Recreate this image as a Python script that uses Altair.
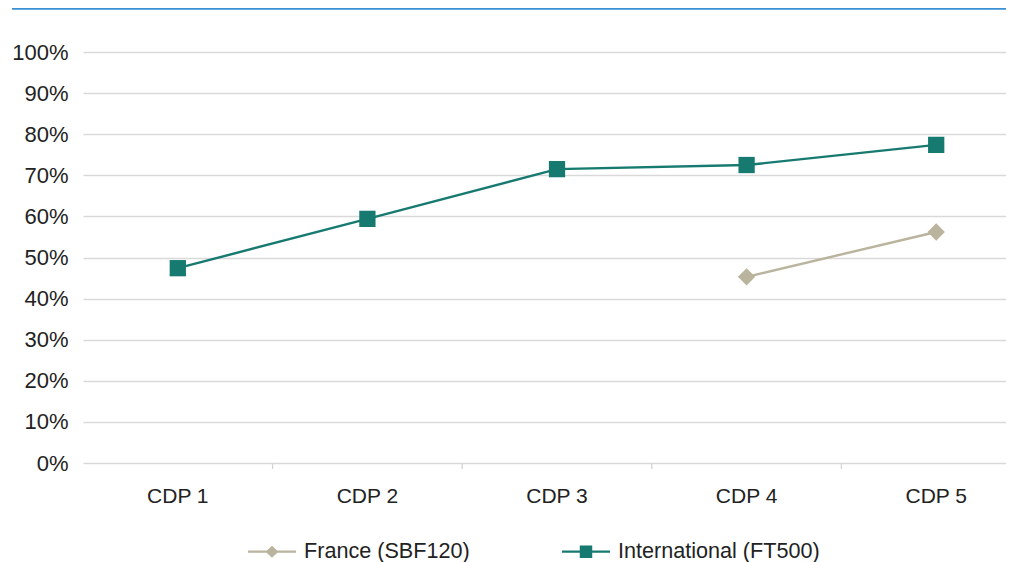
import altair as alt
import pandas as pd

categories = ["CDP 1", "CDP 2", "CDP 3", "CDP 4", "CDP 5"]
series_names = ["France (SBF120)", "International (FT500)"]
france = [None, None, None, 0.453, 0.562]
international = [0.474, 0.594, 0.715, 0.725, 0.774]
y_ticks = [0.0, 0.1, 0.2, 0.3, 0.4, 0.5, 0.6, 0.7, 0.8, 0.9, 1.0]

colors = ["#bab39d", "#177a70"]
marker_shapes = ["diamond", "square"]
marker_sizes = [300, 265]
legend_shapes = [
    "M-1,-0.045H1V0.045H-1ZM0,-0.25L0.27,0L0,0.25L-0.27,0Z",
    "M-1,-0.045H1V0.045H-1ZM-0.26,-0.26H0.26V0.26H-0.26Z",
]

rows = []
for name, vals in zip(series_names, [france, international]):
    for c, v in zip(categories, vals):
        if v is not None:
            rows.append({"cdp": c, "series": name, "value": v})
df = pd.DataFrame(rows)
boundaries = pd.DataFrame({"cdp": categories[1:]})

W = 923
H = 411
BAND = 189.6
FONT = "Liberation Sans"

x_scale = alt.Scale(type="band", domain=categories, range=[0, BAND * 5],
                    paddingInner=0, paddingOuter=0)
x_axis = alt.Axis(title=None, grid=False, domain=False, ticks=False,
                  labelFont=FONT, labelFontSize=21, labelColor="#222",
                  labelPadding=22, labelAngle=0)
x_enc = alt.X("cdp:N", sort=categories, scale=x_scale, axis=x_axis)
y_enc = alt.Y(
    "value:Q",
    scale=alt.Scale(domain=[0, 1], nice=False, zero=True),
    axis=alt.Axis(title=None, values=y_ticks, format=".0%", grid=True,
                  gridColor="#d9d9d9", gridWidth=1.3, domain=False, ticks=False,
                  labelFont=FONT, labelFontSize=22, labelColor="#222",
                  labelPadding=15),
)

top_rule = alt.Chart(pd.DataFrame({"k": [0]})).mark_rule(
    color="#3b8fd4", strokeWidth=2.4
).encode(x=alt.value(-71), x2=alt.value(W), y=alt.value(-43.5))

# small ticks between categories, placed on band boundaries
ticks = alt.Chart(boundaries).mark_rule(color="#d4d4d4", strokeWidth=1.3).encode(
    x=alt.X("cdp:N", sort=categories, scale=x_scale, bandPosition=0, axis=x_axis),
    y=alt.value(H), y2=alt.value(H + 6),
)

layers = [top_rule, ticks]
for name, col, shp, sz in zip(series_names, colors, marker_shapes, marker_sizes):
    sub = alt.Chart(df).transform_filter(alt.datum.series == name)
    layers.append(sub.mark_line(color=col, strokeWidth=2.4).encode(x=x_enc, y=y_enc))
for name, col, shp, sz in zip(series_names, colors, marker_shapes, marker_sizes):
    sub = alt.Chart(df).transform_filter(alt.datum.series == name)
    layers.append(sub.mark_point(shape=shp, filled=True, size=sz, opacity=1, color=col)
                  .encode(x=x_enc, y=y_enc))

legend = alt.Legend(
    title=None, orient="none", legendX=165, legendY=475.5, direction="horizontal",
    symbolSize=2304, symbolStrokeWidth=0, symbolOpacity=1,
    labelFont=FONT, labelFontSize=21.6, labelColor="#222", labelOffset=8,
    labelLimit=500, columnPadding=92, padding=0,
)

# legend-only layer: its marks sit outside the drawing, only its legend shows
legend_layer = alt.Chart(df).mark_point(filled=True, size=10).encode(
    x=alt.value(-2000), y=alt.value(-2000),
    color=alt.Color("series:N", scale=alt.Scale(domain=series_names, range=colors),
                    legend=legend),
    shape=alt.Shape("series:N", scale=alt.Scale(domain=series_names, range=legend_shapes),
                    legend=legend),
)
layers.append(legend_layer)

chart = alt.layer(*layers).properties(
    width=W, height=H,
    autosize=alt.AutoSizeParams(type="none"),
    padding={"left": 75, "top": 44, "right": 0, "bottom": 99},
).configure_view(stroke=None)

chart.save("out.html", embed_options={"renderer": "svg", "actions": False})
